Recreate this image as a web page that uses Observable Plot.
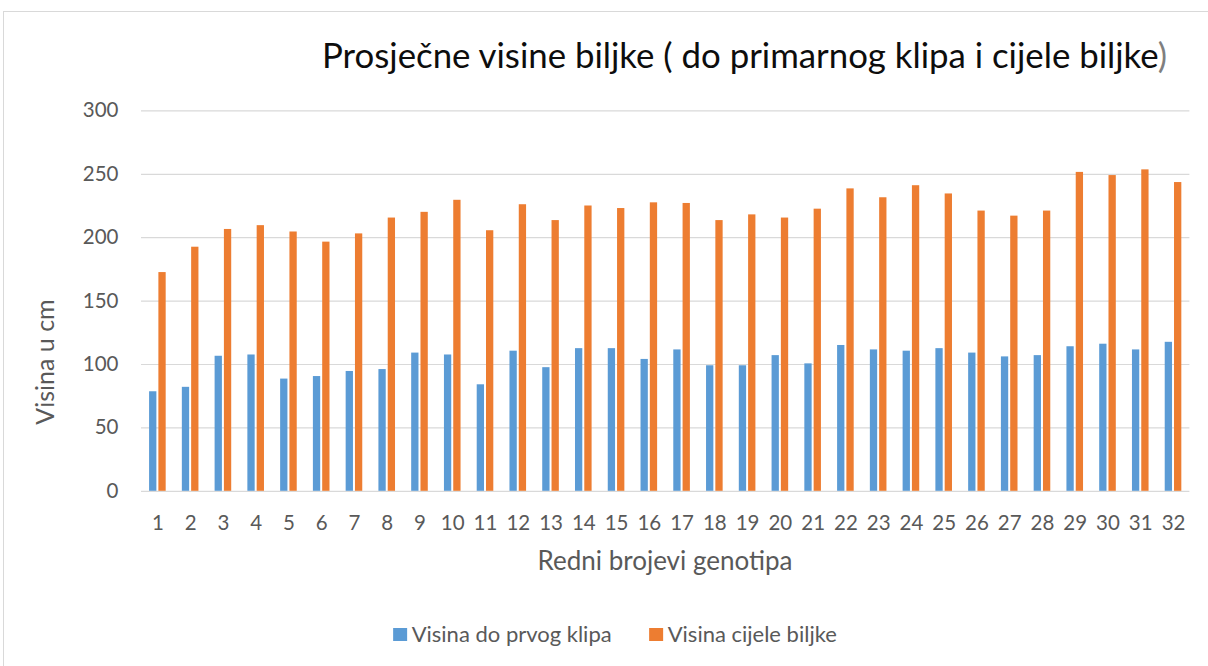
<!DOCTYPE html>
<html>
<head>
<meta charset="utf-8">
<script src="https://cdn.jsdelivr.net/npm/d3@7"></script>
<script src="https://cdn.jsdelivr.net/npm/@observablehq/plot@0.6"></script>
<style>
  html, body { margin: 0; padding: 0; background: #fff; overflow: hidden; }
  #wrap { position: relative; width: 1208px; height: 666px; overflow: hidden; font-family: Lato, "Open Sans", sans-serif; }
  #frame { position: absolute; left: 3px; top: 11px; width: 1230px; height: 700px; border: 1px solid #d9d9d9; box-sizing: border-box; }
  #chart { position: absolute; left: 0; top: 0; }
  .lbl { position: absolute; white-space: nowrap; line-height: 1; color: #595959; }
  #title { left: 322px; top: 38px; font-size: 34.8px; color: #0d0d0d; }
  #xtitle { left: 665px; top: 547px; font-size: 26px; transform: translateX(-50%); }
  #ytitle { left: 44px; top: 362px; font-size: 25px; transform: translate(-50%, -50%) rotate(-90deg); }
  #legend { position: absolute; left: 615px; top: 623px; transform: translateX(-50%); display: flex; gap: 37.5px; font-size: 22px; line-height: 1; color: #595959; white-space: nowrap; }
  .item { display: flex; align-items: flex-start; gap: 5px; }
  .sw { width: 13.5px; height: 13.5px; margin-top: 4.5px; }
</style>
</head>
<body>
<div id="wrap">
  <div id="frame"></div>
  <div id="chart"></div>
  <div id="title" class="lbl"></div>
  <div id="ytitle" class="lbl"></div>
  <div id="xtitle" class="lbl"></div>
  <div id="legend"></div>
</div>
<script>
// ---- data ----
const titleText = "Prosječne visine biljke ( do primarnog klipa i cijele biljke";
const yTitle = "Visina u cm";
const xTitle = "Redni brojevi genotipa";
const genotypes = d3.range(1, 33);
const seriesNames = ["Visina do prvog klipa", "Visina cijele biljke"];
const seriesColors = ["#5b9bd5", "#ed7d31"];
const visinaKlipa = [78.5, 82, 106.5, 107.5, 88.5, 90.5, 94.5, 96, 109, 107.5, 84, 110.5, 97.5, 112.5, 112.5, 104, 111.5, 99, 99, 107, 100.5, 115, 111.5, 110.5, 112.5, 109, 106, 107, 114, 116, 111.5, 117.5];
const visinaBiljke = [172.5, 192.5, 206.5, 209.5, 204.5, 196.5, 203, 215.5, 220, 229.5, 205.5, 226, 213.5, 225, 223, 227.5, 227, 213.5, 218, 215.5, 222.5, 238.5, 231.5, 241, 234.5, 221, 217, 221, 251.5, 249, 253.5, 243.5];
const yTicks = [0, 50, 100, 150, 200, 250, 300];

const rowsA = genotypes.map((g, i) => ({genotip: g, v: visinaKlipa[i]}));
const rowsB = genotypes.map((g, i) => ({genotip: g, v: visinaBiljke[i]}));

// ---- layout ----
const W = 1208, H = 666;
const mL = 141, mR = 18.6, mT = 110.4, mB = 175.2;
const step = (W - mL - mR) / genotypes.length;
const barW = 7.3, gap = 2;
const groupW = 2 * barW + gap;
const pIn = 1 - groupW / step;
const inset = groupW - barW;

const plot = Plot.plot({
  width: W,
  height: H,
  marginLeft: mL,
  marginRight: mR,
  marginTop: mT,
  marginBottom: mB,
  style: {fontFamily: "Lato, 'Open Sans', sans-serif", fontSize: "20.5px", color: "#595959", background: "transparent", overflow: "visible"},
  x: {domain: genotypes, round: false, paddingInner: pIn, paddingOuter: pIn / 2, tickSize: 0, tickPadding: 24, label: null},
  y: {domain: [0, 300], ticks: yTicks, tickSize: 0, tickPadding: 23, label: null},
  marks: [
    Plot.ruleY(yTicks, {stroke: "#d9d9d9", strokeWidth: 1.2}),
    Plot.barY(rowsA, {x: "genotip", y: "v", fill: seriesColors[0], insetRight: inset}),
    Plot.barY(rowsB, {x: "genotip", y: "v", fill: seriesColors[1], insetLeft: inset})
  ]
});
document.getElementById("chart").appendChild(plot);

document.getElementById("title").innerHTML = titleText + '<span style="color:#7f7f7f">)</span>';
document.getElementById("ytitle").textContent = yTitle;
document.getElementById("xtitle").textContent = xTitle;
const legend = document.getElementById("legend");
seriesNames.forEach((n, i) => {
  const it = document.createElement("div");
  it.className = "item";
  const sw = document.createElement("div");
  sw.className = "sw";
  sw.style.background = seriesColors[i];
  const t = document.createElement("span");
  t.textContent = n;
  it.appendChild(sw); it.appendChild(t);
  legend.appendChild(it);
});
</script>
</body>
</html>
